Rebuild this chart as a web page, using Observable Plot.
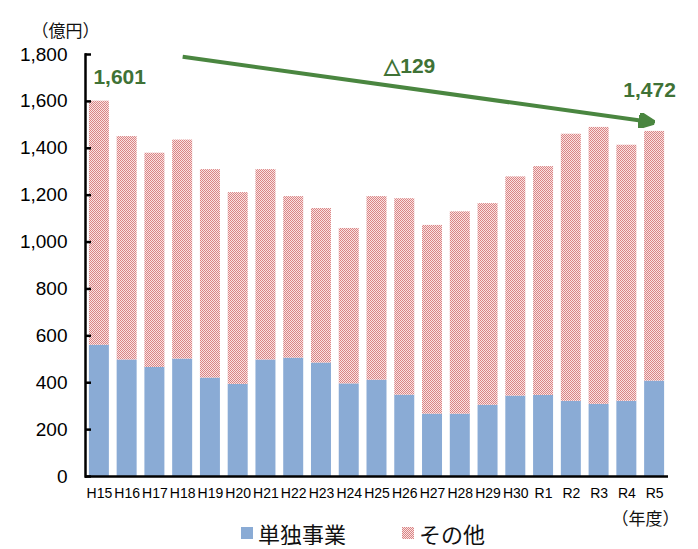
<!DOCTYPE html>
<html><head><meta charset="utf-8">
<script src="https://cdn.jsdelivr.net/npm/d3@7"></script>
<script src="https://cdn.jsdelivr.net/npm/@observablehq/plot@0.6"></script>
<style>
body{margin:0;background:#fff;}
#legend{display:flex;align-items:center;margin-top:-10px;padding-left:241px;height:24px;font-family:"Noto Sans CJK JP",sans-serif;font-size:22px;color:#111;}
#legend .item{display:flex;align-items:center;}
#legend svg{margin-right:5px;}
</style></head><body><div id="chart"></div>
<script>
const years = ["H15","H16","H17","H18","H19","H20","H21","H22","H23","H24","H25","H26","H27","H28","H29","H30","R1","R2","R3","R4","R5"];
const seriesNames = ["単独事業","その他"];
const tandoku = [560,497,465,501,420,393,497,505,484,395,411,347,266,266,304,343,346,321,308,321,407];
const sonota  = [1041,953,914,934,889,818,812,689,659,663,783,838,805,863,860,935,976,1139,1181,1092,1065];
const yTicks = [0,200,400,600,800,1000,1200,1400,1600,1800];
const yUnit = "（億円）";
const xUnit = "（年度）";
const seriesColors = ["#8aabd5","url(#chk)"];
const trendX = ["H18","R5"];
const trendY = [1790,1510];
const diffLabelPos = {x:"H26", y:1749};

const green = "#3f7236";
const arrowGreen = "#4a8640";
const totals = years.map((_,i)=>tandoku[i]+sonota[i]);
const fmt = d3.format(",");
const table = years.flatMap((yr,i)=>[
  {year:yr, series:seriesNames[0], value:tandoku[i]},
  {year:yr, series:seriesNames[1], value:sonota[i]}
]);
const trend = [{x1:trendX[0], y1:trendY[0], x2:trendX[1], y2:trendY[1]}];
const first = [{x:years[0], y:totals[0], t:fmt(totals[0])}];
const last = [{x:years[years.length-1], y:totals[totals.length-1], t:fmt(totals[totals.length-1])}];
const diff = [{x:diffLabelPos.x, y:diffLabelPos.y, t:"△" + fmt(totals[0]-totals[totals.length-1])}];

function filledArrow(color, context){
  const ns = "http://www.w3.org/2000/svg";
  const m = context.document.createElementNS(ns,"marker");
  m.setAttribute("viewBox","-16 -7.5 16 15");
  m.setAttribute("markerWidth","16");
  m.setAttribute("markerHeight","15");
  m.setAttribute("markerUnits","userSpaceOnUse");
  m.setAttribute("refX","0");
  m.setAttribute("refY","0");
  m.setAttribute("orient","auto");
  const p = context.document.createElementNS(ns,"path");
  p.setAttribute("d","M-16,-7.5L0,0L-16,7.5Z");
  p.setAttribute("fill",color);
  m.appendChild(p);
  return m;
}

const plot = Plot.plot({
  width:698, height:531,
  marginLeft:85, marginRight:30, marginTop:54, marginBottom:55,
  style:{fontFamily:"'Liberation Sans', Arial, sans-serif", background:"#fff", color:"#000"},
  x:{domain:years, paddingInner:0.28, paddingOuter:0.14, round:false, label:null},
  y:{domain:[0,1800], label:null},
  color:{domain:seriesNames, range:seriesColors},
  marks:[
    Plot.barY(table,{x:"year", y:"value", fill:"series"}),
    Plot.frame({anchor:"left", stroke:"#000", strokeWidth:2.5}),
    Plot.ruleY([0],{stroke:"#000", strokeWidth:2.5}),
    Plot.axisY({ticks:yTicks, tickFormat:fmt, tickSize:-6, tickPadding:24, fontSize:19, strokeWidth:2.5, label:null}),
    Plot.axisX({tickSize:0, tickPadding:12, fontSize:14, label:null}),
    Plot.link(trend,{x1:"x1", y1:"y1", x2:"x2", y2:"y2", stroke:arrowGreen, strokeWidth:4, markerEnd:filledArrow}),
    Plot.text(first,{x:"x", y:"y", text:"t", textAnchor:"start", dx:-6, dy:-24, fontSize:21, fontWeight:"bold", fill:green}),
    Plot.text(last,{x:"x", y:"y", text:"t", dx:-5, dy:-41, fontSize:21, fontWeight:"bold", fill:green}),
    Plot.text(diff,{x:"x", y:"y", text:"t", dx:5, fontSize:21, fontWeight:"bold", fill:green}),
    Plot.text([yUnit],{text:d=>d, frameAnchor:"top-left", textAnchor:"start", dx:-54, dy:-30, fontSize:17, fontFamily:"'Noto Sans CJK JP', sans-serif", fill:"#111"}),
    Plot.text([xUnit],{text:d=>d, frameAnchor:"bottom-right", textAnchor:"end", dx:11, dy:48, fontSize:17, fontFamily:"'Noto Sans CJK JP', sans-serif", fill:"#111"})
  ]
});

// checkered pattern for "その他"
const defs = d3.select(plot).insert("defs",":first-child");
const pat = defs.append("pattern").attr("id","chk").attr("patternUnits","userSpaceOnUse").attr("width",2).attr("height",2);
pat.append("rect").attr("width",2).attr("height",2).attr("fill","#fae2e2");
pat.append("rect").attr("width",1).attr("height",1).attr("fill","#d98585");
pat.append("rect").attr("x",1).attr("y",1).attr("width",1).attr("height",1).attr("fill","#d98585");

document.getElementById("chart").appendChild(plot);

// legend
const legend = document.createElement("div");
legend.id = "legend";
seriesNames.forEach((name,i)=>{
  const item = document.createElement("div");
  item.className = "item";
  if(i>0) item.style.marginLeft = "56px";
  item.innerHTML = `<svg width="12" height="12"><rect width="12" height="12" fill="${seriesColors[i]}"></rect></svg><span>${name}</span>`;
  legend.appendChild(item);
});
document.body.appendChild(legend);
</script>
</body></html>
